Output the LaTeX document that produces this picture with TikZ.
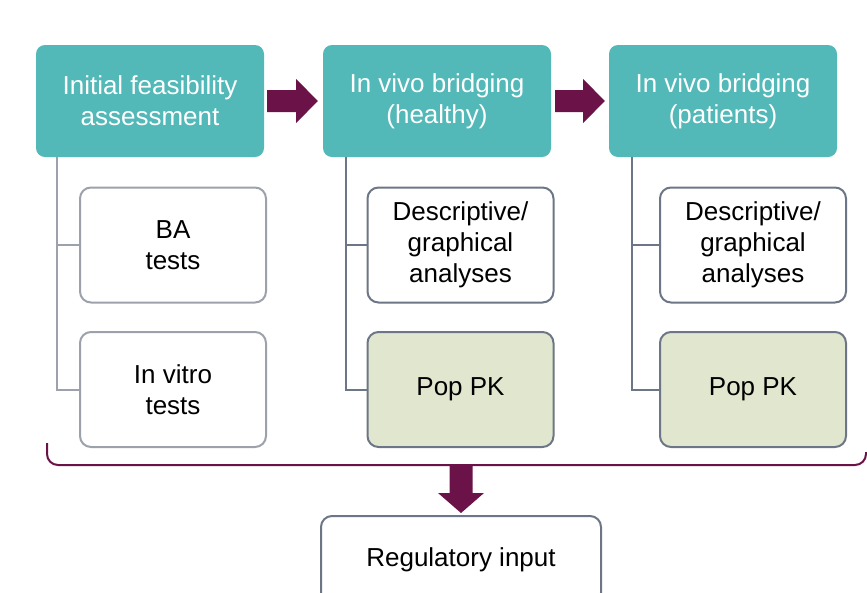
\documentclass[tikz,border=0pt]{standalone}
\usepackage{fontspec}
\setmainfont{Liberation Sans}
\usetikzlibrary{calc}
\definecolor{teal1}{HTML}{53B9B8}
\definecolor{plum}{HTML}{6B1248}
\definecolor{popfill}{HTML}{E1E7CE}
\definecolor{lgray}{HTML}{9CA1AC}
\definecolor{dgray}{HTML}{6D7686}
\tikzset{
  topbox/.style={rectangle, rounded corners=9pt, fill=teal1, draw=none, text=white,
    minimum width=228pt, minimum height=112pt, align=center,
    font=\fontsize{26pt}{31pt}\selectfont},
  subbox/.style={rectangle, rounded corners=11pt, fill=white, draw=dgray, line width=2pt,
    minimum width=186pt, minimum height=115pt, align=center, text=black,
    font=\fontsize{26pt}{31pt}\selectfont},
  conn/.style={draw=dgray, line width=2pt},
  blockarrow/.style={fill=plum, draw=none},
}
\begin{document}
\begin{tikzpicture}[x=1pt,y=-1pt]
\useasboundingbox (0,0) rectangle (867,592);
\clip (0,0) rectangle (867,592);
% top boxes
\node[topbox] (b1) at (150,101) {Initial feasibility\\assessment};
\node[topbox] (b2) at (437,101) {In vivo bridging\\(healthy)};
\node[topbox] (b3) at (723,101) {In vivo bridging\\(patients)};
% sub boxes
\node[subbox, draw=lgray] (ba) at (173,245) {BA\\tests};
\node[subbox, draw=lgray] (iv) at (173,389.5) {In vitro\\tests};
\node[subbox] (d2) at (460.5,245) {Descriptive/\\graphical\\analyses};
\node[subbox, fill=popfill] (p2) at (460.5,389.5) {Pop PK};
\node[subbox] (d3) at (753,245) {Descriptive/\\graphical\\analyses};
\node[subbox, fill=popfill] (p3) at (753,389.5) {Pop PK};
\node[subbox, minimum width=280pt, minimum height=88pt] (reg) at (461,560) {Regulatory input};
% tree connectors
\draw[conn, draw=lgray] ([xshift=21pt]b1.south west) |- (ba.west);
\draw[conn, draw=lgray] ([xshift=21pt]b1.south west) |- (iv.west);
\draw[conn] ([xshift=23pt]b2.south west) |- (d2.west);
\draw[conn] ([xshift=23pt]b2.south west) |- (p2.west);
\draw[conn] ([xshift=23pt]b3.south west) |- (d3.west);
\draw[conn] ([xshift=23pt]b3.south west) |- (p3.west);
% block arrows between top boxes
\fill[blockarrow] ($(b1.east)+(3,-11)$) -- ++(29,0) -- ++(0,-11) -- ($(b2.west)+(-5,0)$)
  -- ($(b1.east)+(32,22)$) -- ++(0,-11) -- ($(b1.east)+(3,11)$) -- cycle;
\fill[blockarrow] ($(b2.east)+(4,-11)$) -- ++(28,0) -- ++(0,-11) -- ($(b3.west)+(-4,0)$)
  -- ($(b2.east)+(32,22)$) -- ++(0,-11) -- ($(b2.east)+(4,11)$) -- cycle;
% bracket
\coordinate (brl) at (47,443);
\coordinate (brr) at (866,452);
\draw[plum, line width=2pt, rounded corners=11pt] (brl) -- (47,465) -- (866,465) -- (brr);
% down arrow
\coordinate (dtop) at (461,465);
\fill[blockarrow] ($(dtop)+(-11.5,0)$) -- ($(dtop)+(11.5,0)$) -- ($(dtop)+(11.5,28)$)
  -- ($(dtop)+(23,28)$) -- ($(reg.north)+(0,-2)$) -- ($(dtop)+(-23,28)$)
  -- ($(dtop)+(-11.5,28)$) -- cycle;
\end{tikzpicture}
\end{document}
